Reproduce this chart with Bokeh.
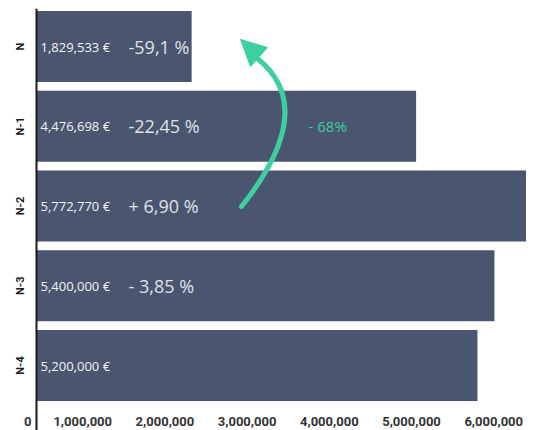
import math
from bokeh.plotting import figure
from bokeh.models import ColumnDataSource, Range1d, FixedTicker, Span
from bokeh.core.properties import value
from bokeh.embed import file_html
from bokeh.resources import INLINE

# ---- data ----
categories = ["N-4", "N-3", "N-2", "N-1", "N"]
revenues = [5200000, 5400000, 5772770, 4476698, 1829533]
value_labels = ["5,200,000 €", "5,400,000 €", "5,772,770 €", "4,476,698 €", "1,829,533 €"]
change_labels = ["", "- 3,85 %", "+ 6,90 %", "-22,45 %", "-59,1 %"]
x_tick_values = [1000000, 2000000, 3000000, 4000000, 5000000, 6000000]
x_tick_labels = ["1,000,000", "2,000,000", "3,000,000", "4,000,000", "5,000,000", "6,000,000"]
zero_label = "0"
total_change_label = "- 68%"

BAR = "#4a5570"
TEAL = "#3dcf9d"

ypos = list(range(len(categories)))

# pixel geometry helpers (frame: x 14..538, y 8..430 on the page; value 0 at x=36)
PX_PER_M = 84.8
def dx(px):
    return (px - 36) / PX_PER_M * 1e6
def dy(py):
    return (365 - py) / 79.75

p = figure(width=538, height=430, output_backend="svg", toolbar_location=None,
           x_range=Range1d(dx(14), dx(538)), y_range=Range1d(dy(430), dy(8)),
           min_border_left=14, min_border_right=0, min_border_top=8, min_border_bottom=0)
# scale of the (offset) labels of the bottom scale
p.extra_x_ranges = {"ticks": Range1d(14 / 82.2 * 1e6, 538 / 82.2 * 1e6)}

p.xaxis.visible = False
p.xgrid.visible = False
p.ygrid.visible = False
p.outline_line_color = None
p.background_fill_color = "white"
p.border_fill_color = "white"

ax = p.yaxis[0]
ax.ticker = FixedTicker(ticks=ypos)
ax.major_label_overrides = {float(i): c for i, c in zip(ypos, categories)}
ax.major_label_orientation = "vertical"
ax.major_tick_line_color = None
ax.minor_tick_line_color = None
ax.major_tick_out = 0
ax.major_tick_in = 0
ax.axis_line_color = None
ax.major_label_standoff = -12
ax.major_label_text_font = "Roboto"
ax.major_label_text_font_style = "bold"
ax.major_label_text_font_size = "11px"
ax.major_label_text_color = "#1a1a1a"

# value axis base line
p.add_layout(Span(location=0, dimension="height", line_width=2, line_color="#1a1a1a"))

src = ColumnDataSource(dict(y=ypos, v=revenues, vl=value_labels, cl=change_labels,
                            x0=[0] * len(ypos)))
p.hbar(y="y", left=0, right="v", height=0.89, source=src, fill_color=BAR,
       line_color=None)

p.text(x="x0", y="y", text="vl", source=src, x_offset=4, text_align="left",
       text_baseline="middle", text_font=value("Open Sans"), text_font_size="13px",
       text_color="#f2f3f7")
p.text(x="x0", y="y", text="cl", source=src, x_offset=92, text_align="left",
       text_baseline="middle", text_font=value("Open Sans"), text_font_size="18px",
       text_color="#dfe2ea")

# bottom scale labels
tsrc = ColumnDataSource(dict(x=x_tick_values, t=x_tick_labels, y=[dy(421)] * len(x_tick_values)))
p.text(x="x", y="y", text="t", source=tsrc, x_range_name="ticks", text_align="center",
       text_baseline="middle", text_font=value("Roboto"), text_font_style="bold",
       text_font_size="13px", text_color="#333333")
p.text(x=[0], y=[dy(421)], text=[zero_label], x_offset=-5, text_align="right",
       text_baseline="middle", text_font=value("Roboto"), text_font_style="bold",
       text_font_size="13px", text_color="#333333")

# total change annotation
p.text(x=[dx(308)], y=[ypos[3]], text=[total_change_label], text_align="left",
       text_baseline="middle", text_font=value("Open Sans"), text_font_size="15px",
       text_color=TEAL)

# curved arrow
p.quadratic(x0=[dx(241)], y0=[dy(206)], x1=[dx(257)], y1=[dy(58)],
            cx=[dx(319)], cy=[dy(108)], line_color=TEAL, line_width=5, line_cap="round")
p.patch(x=[dx(240), dx(250), dx(267)], y=[dy(39), dy(66), dy(47)],
        fill_color=TEAL, line_color=TEAL, line_width=1, line_join="round")

open("out.html", "w").write(file_html(p, INLINE))
